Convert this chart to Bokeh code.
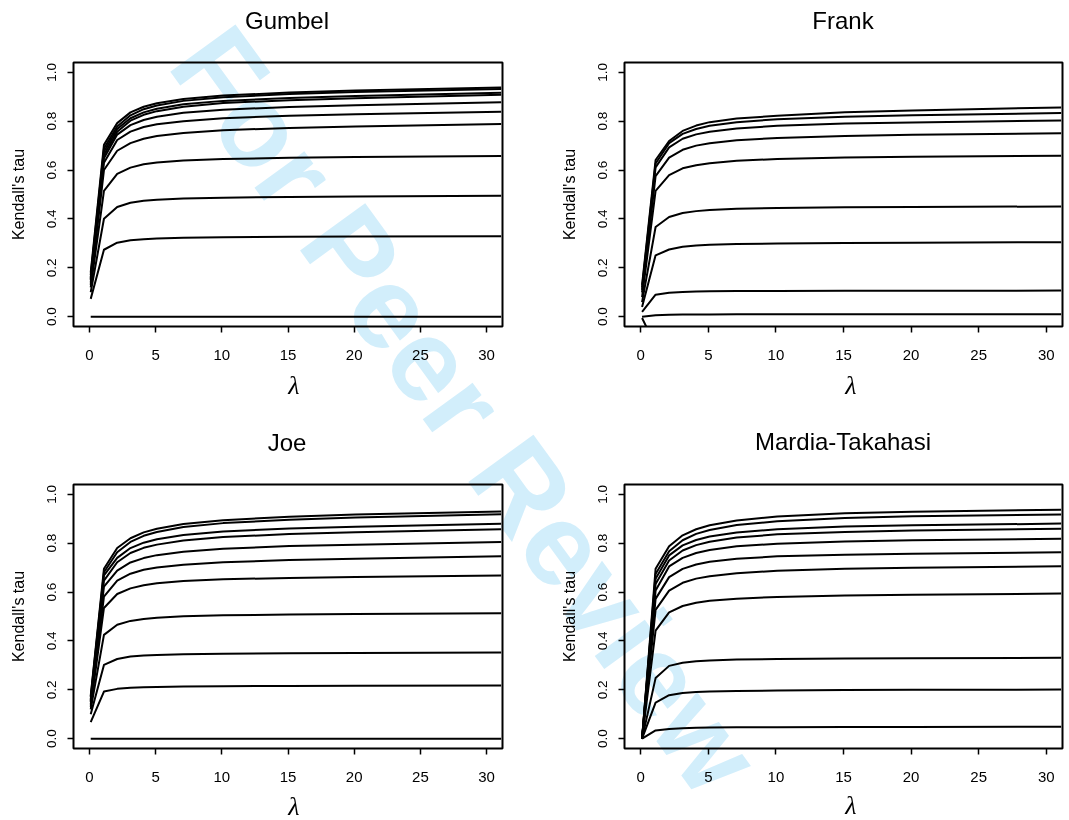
import math
from bokeh.plotting import figure
from bokeh.layouts import column, row
from bokeh.models import Range1d, FixedTicker, PrintfTickFormatter, Div
from bokeh.embed import file_html
from bokeh.resources import INLINE

# ---------------- data ----------------
lam = [0.1, 1.1, 2.1, 3.1, 4.1, 5.1, 7.1, 10.1, 15.1, 20.1, 31.1]

gumbel_tau = [
    [0.000, 0.000, 0.000, 0.000, 0.000, 0.000, 0.000, 0.000, 0.000, 0.000, 0.000],
    [0.073, 0.274, 0.303, 0.313, 0.317, 0.320, 0.323, 0.325, 0.327, 0.328, 0.329],
    [0.100, 0.401, 0.449, 0.466, 0.474, 0.479, 0.484, 0.487, 0.490, 0.492, 0.495],
    [0.120, 0.515, 0.584, 0.610, 0.624, 0.631, 0.639, 0.645, 0.650, 0.653, 0.658],
    [0.130, 0.600, 0.679, 0.710, 0.728, 0.739, 0.752, 0.763, 0.772, 0.778, 0.788],
    [0.140, 0.630, 0.723, 0.757, 0.776, 0.787, 0.800, 0.812, 0.822, 0.828, 0.839],
    [0.150, 0.648, 0.745, 0.784, 0.805, 0.818, 0.834, 0.847, 0.858, 0.865, 0.877],
    [0.155, 0.662, 0.757, 0.802, 0.826, 0.841, 0.859, 0.874, 0.886, 0.894, 0.908],
    [0.160, 0.675, 0.768, 0.812, 0.836, 0.851, 0.869, 0.883, 0.895, 0.903, 0.916],
    [0.170, 0.688, 0.778, 0.824, 0.849, 0.864, 0.883, 0.898, 0.911, 0.919, 0.932],
    [0.180, 0.703, 0.792, 0.836, 0.859, 0.873, 0.891, 0.905, 0.917, 0.925, 0.938],
]

frank_tau = [
    [-0.005, -0.120, -0.140, -0.148, -0.152, -0.154, -0.156, -0.158, -0.159, -0.160, -0.160],
    [0.000, 0.006, 0.008, 0.009, 0.009, 0.009, 0.010, 0.010, 0.010, 0.010, 0.010],
    [0.020, 0.090, 0.098, 0.101, 0.103, 0.104, 0.105, 0.105, 0.106, 0.106, 0.107],
    [0.040, 0.251, 0.275, 0.286, 0.291, 0.294, 0.297, 0.300, 0.302, 0.303, 0.305],
    [0.060, 0.367, 0.408, 0.424, 0.432, 0.437, 0.442, 0.445, 0.448, 0.449, 0.451],
    [0.080, 0.515, 0.579, 0.607, 0.620, 0.628, 0.638, 0.645, 0.651, 0.654, 0.659],
    [0.100, 0.575, 0.651, 0.683, 0.700, 0.710, 0.722, 0.731, 0.739, 0.744, 0.751],
    [0.110, 0.611, 0.693, 0.728, 0.746, 0.757, 0.770, 0.781, 0.790, 0.795, 0.803],
    [0.120, 0.627, 0.710, 0.748, 0.768, 0.781, 0.796, 0.808, 0.818, 0.824, 0.833],
    [0.130, 0.641, 0.719, 0.760, 0.782, 0.796, 0.811, 0.822, 0.836, 0.844, 0.856],
]

joe_tau = [
    [0.000, 0.000, 0.000, 0.000, 0.000, 0.000, 0.000, 0.000, 0.000, 0.000, 0.000],
    [0.068, 0.193, 0.204, 0.209, 0.211, 0.212, 0.214, 0.215, 0.216, 0.217, 0.218],
    [0.100, 0.302, 0.326, 0.336, 0.340, 0.343, 0.346, 0.348, 0.350, 0.351, 0.353],
    [0.120, 0.425, 0.466, 0.482, 0.490, 0.495, 0.501, 0.505, 0.508, 0.510, 0.513],
    [0.130, 0.535, 0.592, 0.615, 0.628, 0.636, 0.645, 0.652, 0.658, 0.662, 0.668],
    [0.140, 0.581, 0.647, 0.675, 0.691, 0.700, 0.712, 0.722, 0.731, 0.736, 0.746],
    [0.150, 0.622, 0.688, 0.721, 0.739, 0.751, 0.765, 0.777, 0.788, 0.794, 0.805],
    [0.155, 0.647, 0.722, 0.760, 0.781, 0.794, 0.811, 0.825, 0.837, 0.845, 0.857],
    [0.160, 0.668, 0.740, 0.780, 0.802, 0.816, 0.833, 0.848, 0.860, 0.867, 0.879],
    [0.170, 0.681, 0.763, 0.805, 0.830, 0.846, 0.866, 0.882, 0.896, 0.905, 0.918],
    [0.175, 0.695, 0.780, 0.820, 0.844, 0.859, 0.878, 0.894, 0.908, 0.917, 0.930],
]

mardia_tau = [
    [0.000, 0.034, 0.040, 0.043, 0.045, 0.046, 0.047, 0.047, 0.048, 0.048, 0.049],
    [0.000, 0.148, 0.178, 0.187, 0.191, 0.193, 0.195, 0.197, 0.199, 0.200, 0.201],
    [0.000, 0.248, 0.298, 0.311, 0.317, 0.320, 0.324, 0.326, 0.328, 0.329, 0.331],
    [0.000, 0.442, 0.517, 0.543, 0.556, 0.564, 0.573, 0.580, 0.586, 0.589, 0.594],
    [0.000, 0.527, 0.606, 0.638, 0.655, 0.665, 0.677, 0.687, 0.695, 0.699, 0.706],
    [0.000, 0.572, 0.661, 0.695, 0.713, 0.724, 0.736, 0.746, 0.753, 0.757, 0.763],
    [0.000, 0.606, 0.705, 0.740, 0.760, 0.772, 0.787, 0.798, 0.807, 0.812, 0.818],
    [0.000, 0.633, 0.729, 0.770, 0.792, 0.806, 0.823, 0.836, 0.846, 0.852, 0.859],
    [0.000, 0.654, 0.750, 0.791, 0.813, 0.827, 0.844, 0.857, 0.868, 0.873, 0.880],
    [0.000, 0.674, 0.767, 0.812, 0.838, 0.854, 0.874, 0.890, 0.903, 0.910, 0.917],
    [0.000, 0.695, 0.787, 0.832, 0.857, 0.873, 0.893, 0.909, 0.922, 0.929, 0.937],
]

titles = ["Gumbel", "Frank", "Joe", "Mardia-Takahasi"]
x_ticks = [0, 5, 10, 15, 20, 25, 30]
y_ticks = [0.0, 0.2, 0.4, 0.6, 0.8, 1.0]
y_label = "Kendall's tau"
x_label = "\u03bb"
watermark = "For Peer Review"

# ---------------- layout geometry ----------------
X0, X1 = -1.2, 31.2
Y0, Y1 = -0.04, 1.04
SANS = "Liberation Sans"

# (width, height, left, right, top, bottom)
geom = [
    (535, 421, 73, 33, 62, 95),
    (534, 421, 89, 7, 62, 95),
    (535, 399, 73, 33, 63, 72),
    (534, 399, 89, 7, 63, 72),
]
# page positions (centre) of the panel titles and of the x-axis labels
title_pos = [(287, 21), (843, 21), (287, 443), (843, 442)]
xlabel_pos = [(294, 386), (851, 386), (294, 807), (851, 806)]


def make_panel(curves, g):
    w, h, bl, br, bt, bb = g
    p = figure(width=w, height=h, output_backend="svg", toolbar_location=None,
               x_range=Range1d(X0, X1), y_range=Range1d(Y0, Y1),
               min_border_left=bl, min_border_right=br,
               min_border_top=bt, min_border_bottom=bb)
    p.xgrid.grid_line_color = None
    p.ygrid.grid_line_color = None
    p.outline_line_color = "black"
    p.outline_line_width = 2
    p.background_fill_color = None
    p.border_fill_color = None

    for ax in (p.xaxis[0], p.yaxis[0]):
        ax.axis_line_color = None
        ax.minor_tick_line_color = None
        ax.major_tick_in = 0
        ax.major_tick_out = 6
        ax.major_tick_line_width = 1.5
        ax.major_tick_line_color = "black"
        ax.major_label_text_font = SANS
        ax.major_label_text_color = "black"
        ax.axis_label_text_color = "black"
        ax.axis_label_text_font_style = "normal"

    p.xaxis.ticker = FixedTicker(ticks=x_ticks)
    p.xaxis.major_label_text_font_size = "15px"
    p.xaxis.major_label_standoff = 17

    p.yaxis.ticker = FixedTicker(ticks=y_ticks)
    p.yaxis.formatter = PrintfTickFormatter(format="%.1f")
    p.yaxis.major_label_orientation = "vertical"
    p.yaxis.major_label_text_font_size = "13.5px"
    p.yaxis.major_label_standoff = 11
    p.yaxis.axis_label = y_label
    p.yaxis.axis_label_text_font = SANS
    p.yaxis.axis_label_text_font_size = "16px"
    p.yaxis.axis_label_standoff = 18

    for tau in curves:
        p.line(lam, tau, line_color="black", line_width=2, line_join="round")
    return p


panels = [make_panel(c, g) for c, g in
          zip([gumbel_tau, frank_tau, joe_tau, mardia_tau], geom)]


def placed(cx, cy, txt, css, rot=0):
    return ('<div style="position:absolute; left:%dpx; top:%dpx; '
            'transform:translate(-50%%,-50%%) rotate(%ddeg); white-space:nowrap; '
            'line-height:1; pointer-events:none; %s">%s</div>' % (cx, cy, rot, css, txt))


parts = [placed(466, 410, watermark,
                "font-family:'Liberation Sans'; font-weight:bold; font-size:117px; "
                "color:#d2eefb; mix-blend-mode:multiply;", rot=54)]
for t, (cx, cy) in zip(titles, title_pos):
    parts.append(placed(cx, cy, t, "font-family:'Liberation Sans'; font-size:24px; color:black;"))
for (cx, cy) in xlabel_pos:
    parts.append(placed(cx, cy, x_label,
                        "font-family:'Liberation Serif'; font-style:italic; "
                        "font-size:26px; color:black;"))

overlay = Div(text="".join(parts), width=1069, height=0, margin=(0, 0, 0, 0),
              styles={"overflow": "visible", "position": "relative"})

layout = column(overlay, row(panels[0], panels[1]), row(panels[2], panels[3]))
open("out.html", "w").write(file_html(layout, INLINE))
